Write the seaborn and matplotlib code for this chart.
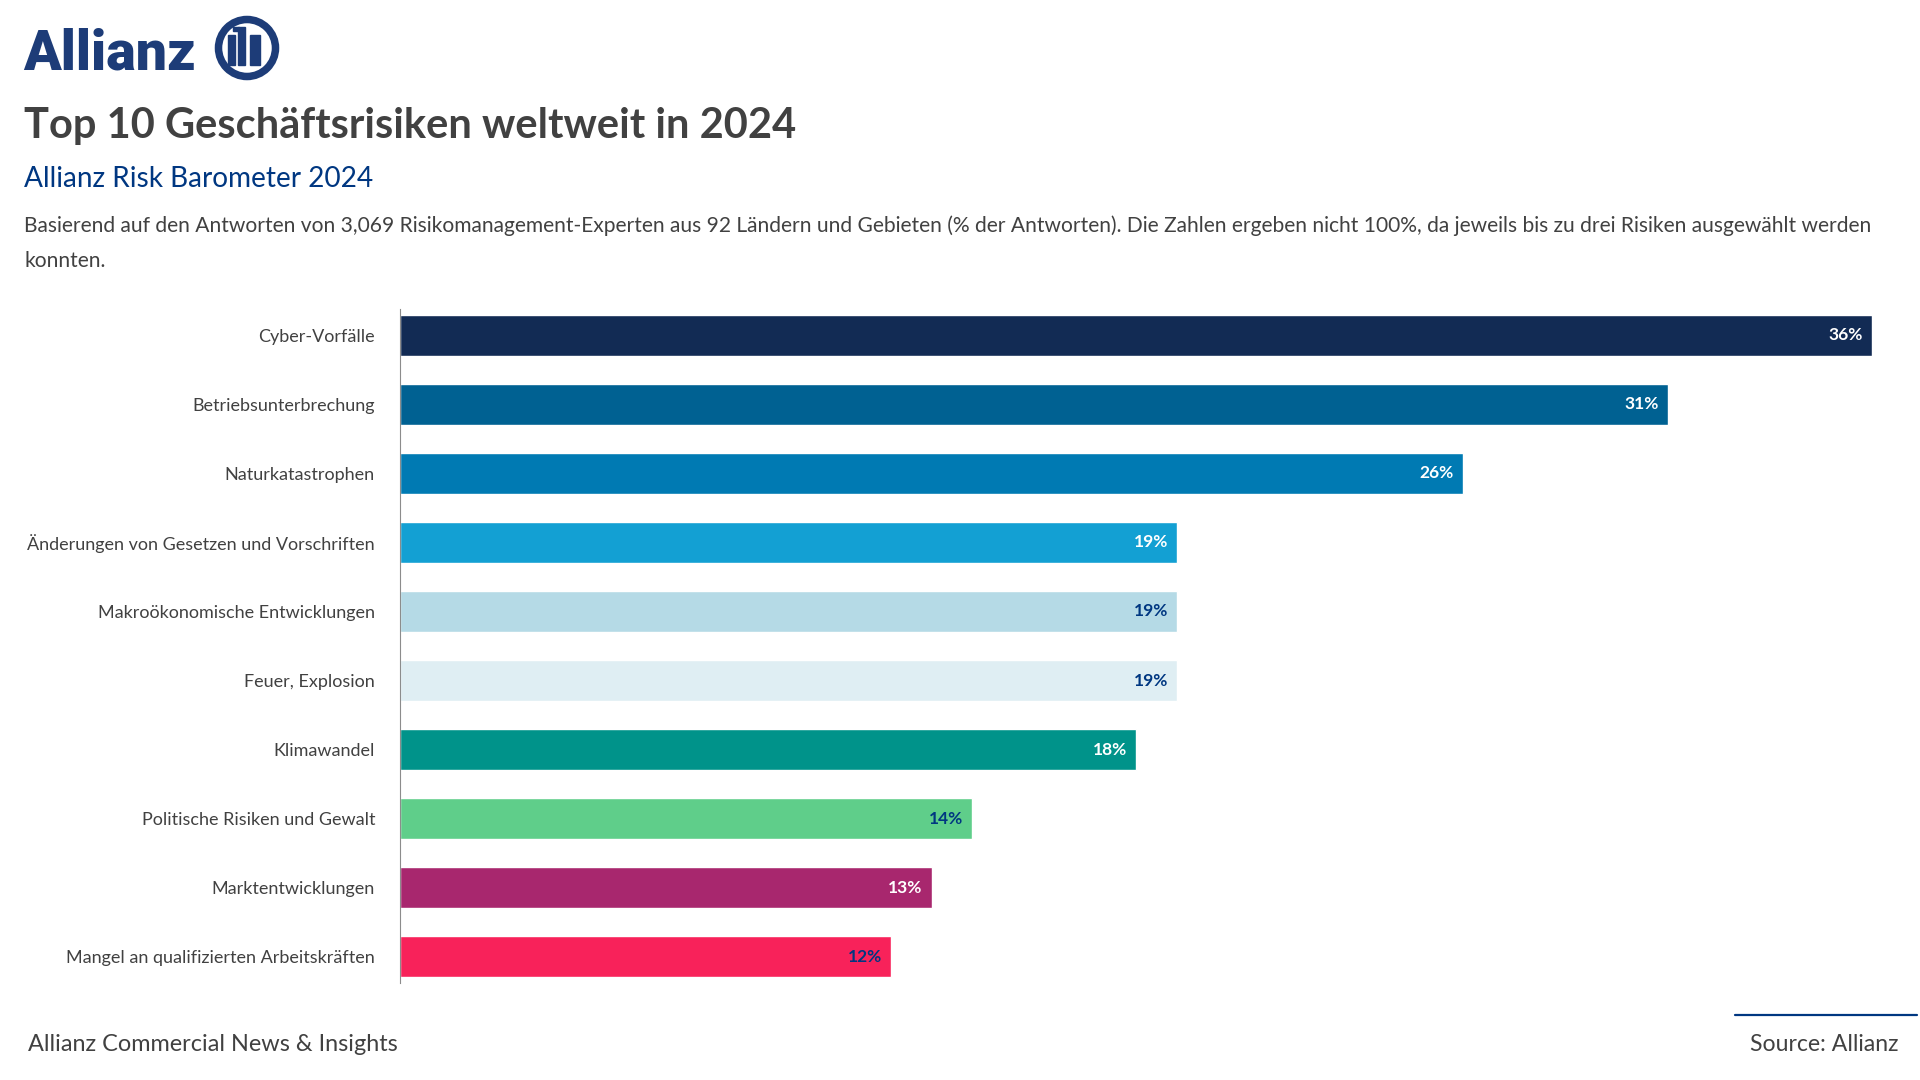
import matplotlib
matplotlib.use("Agg")
import matplotlib.pyplot as plt
import matplotlib.patches as mpatches
import matplotlib.transforms as mtrans
import seaborn as sns
import pandas as pd

categories = [
    "Cyber-Vorfälle",
    "Betriebsunterbrechung",
    "Naturkatastrophen",
    "Änderungen von Gesetzen und Vorschriften",
    "Makroökonomische Entwicklungen",
    "Feuer, Explosion",
    "Klimawandel",
    "Politische Risiken und Gewalt",
    "Marktentwicklungen",
    "Mangel an qualifizierten Arbeitskräften",
]
values = [36, 31, 26, 19, 19, 19, 18, 14, 13, 12]
bar_colors = ["#122b54", "#006192", "#007ab3", "#13a0d3", "#b5dae6",
              "#dfeef3", "#00938a", "#5fce8a", "#a8276e", "#f8225a"]
label_colors = ["white", "white", "white", "white", "#003781",
                "#003781", "white", "#003781", "white", "#003781"]

title = "Top 10 Geschäftsrisiken weltweit in 2024"
subtitle = "Allianz Risk Barometer 2024"
desc1 = ("Basierend auf den Antworten von 3,069 Risikomanagement-Experten aus 92 Ländern und Gebieten "
         "(% der Antworten). Die Zahlen ergeben nicht 100%, da jeweils bis zu drei Risiken ausgewählt werden")
desc2 = "konnten."
footer_left = "Allianz Commercial News & Insights"
footer_right = "Source: Allianz"

sns.set_theme(style="white")
plt.rcParams['font.family'] = ['Lato', 'DejaVu Sans']

W, H = 1920, 1080
fig = plt.figure(figsize=(19.2, 10.8), dpi=100)
fig.patch.set_facecolor("white")

def fx(px):
    return px / W

def fy(py):
    return 1 - py / H

# overlay axes in pixel coords for decorations
deco = fig.add_axes([0, 0, 1, 1], zorder=0)
deco.set_xlim(0, W)
deco.set_ylim(H, 0)
deco.axis("off")

logo_blue = "#1d3c78"
deco.text(23, 69, "Allianz", fontsize=40, fontweight="black", color=logo_blue,
          family=['Roboto', 'DejaVu Sans'], va="baseline", ha="left")
deco.add_patch(mpatches.Circle((247, 48), 28.5, fill=False, ec=logo_blue, lw=5.4))
deco.add_patch(mpatches.Rectangle((228, 35), 7, 30, color=logo_blue))
deco.add_patch(mpatches.Rectangle((238, 27), 7, 38, color=logo_blue))
deco.add_patch(mpatches.Rectangle((233, 27), 6, 4, color=logo_blue))
deco.add_patch(mpatches.Rectangle((250, 35), 10, 30, color=logo_blue))

# footer line
deco.plot([1735, 1917], [1015, 1015], color="#003781", lw=1.6)

fig.text(fx(24), fy(138), title, fontsize=30, fontweight="bold", color="#414141", va="baseline")
fig.text(fx(24), fy(187), subtitle, fontsize=20.2, color="#003781", va="baseline")
fig.text(fx(24), fy(232), desc1, fontsize=15.1, color="#414141", va="baseline")
fig.text(fx(24), fy(267), desc2, fontsize=15.1, color="#414141", va="baseline")
fig.text(fx(28), fy(1051), footer_left, fontsize=16.9, color="#414141", va="baseline")
fig.text(fx(1899), fy(1051), footer_right, fontsize=16.6, color="#414141", va="baseline", ha="right")

# main chart
ax = fig.add_axes([fx(400), fy(983), (1872 - 400) / W, (983 - 309) / H], zorder=1)
df = pd.DataFrame({"Risiko": categories, "Wert": values})
sns.barplot(data=df, x="Wert", y="Risiko", hue="Risiko", palette=bar_colors,
            legend=False, width=0.59, saturation=1, ax=ax, orient="h")
ax.set_xlim(0, 36)
ax.set_ylim(len(categories) - 0.62, -0.38)
ax.set_xlabel("")
ax.set_ylabel("")
ax.set_xticks([])
ax.set_facecolor("none")
for side in ["top", "right", "bottom"]:
    ax.spines[side].set_visible(False)
ax.spines["left"].set_color("#8c8c8c")
ax.spines["left"].set_linewidth(0.8)
ax.tick_params(axis="y", length=0, pad=18, labelsize=13, labelcolor="#414141")

off = mtrans.offset_copy(ax.transData, fig=fig, x=-9, y=0, units="dots")
for i, (v, c) in enumerate(zip(values, label_colors)):
    ax.text(v, i, f"{v}%", ha="right", va="center", fontsize=12.5,
            fontweight="bold", color=c, transform=off)

fig.savefig("out.png", dpi=100, facecolor="white")
